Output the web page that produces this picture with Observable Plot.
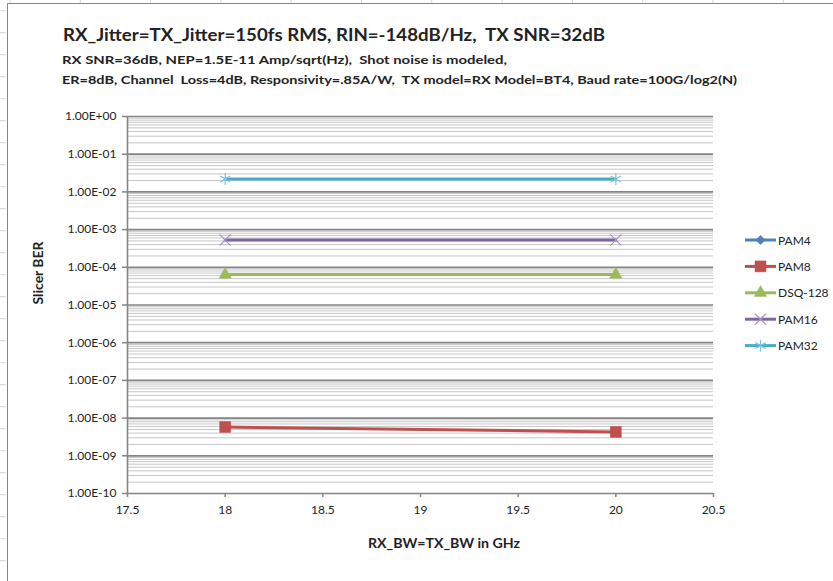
<!DOCTYPE html>
<html>
<head>
<meta charset="utf-8">
<script src="https://cdn.jsdelivr.net/npm/d3@7"></script>
<script src="https://cdn.jsdelivr.net/npm/@observablehq/plot@0.6"></script>
<style>
  html, body { margin: 0; padding: 0; background: #fff; }
  #page { position: relative; width: 833px; height: 581px; overflow: hidden; font-family: Lato, "Noto Sans", sans-serif; }
  #page > svg { position: absolute; left: 0; top: 0; }
  #overlay { pointer-events: none; }
  #overlay text { white-space: pre; }
</style>
</head>
<body>
<div id="page"></div>
<script>
// BER at each RX/TX bandwidth (GHz)
const bandwidth = [18, 20];
const pam4   = [null, null];          // below the plotted range
const pam8   = [5.8e-9, 4.3e-9];
const dsq128 = [6.4e-5, 6.4e-5];
const pam16  = [5.3e-4, 5.3e-4];
const pam32  = [2.2e-2, 2.2e-2];

const seriesNames = ["PAM4", "PAM8", "DSQ-128", "PAM16", "PAM32"];
const seriesValues = [pam4, pam8, dsq128, pam16, pam32];

const xTicks = [17.5, 18, 18.5, 19, 19.5, 20, 20.5];
const yTicks = [1e-10, 1e-9, 1e-8, 1e-7, 1e-6, 1e-5, 1e-4, 1e-3, 1e-2, 1e-1, 1];
const minorSteps = [2, 3, 4, 5, 6, 7, 8, 9];

const titleText = "RX_Jitter=TX_Jitter=150fs RMS, RIN=-148dB/Hz,  TX SNR=32dB";
const subtitleLines = [
  "RX SNR=36dB, NEP=1.5E-11 Amp/sqrt(Hz),  Shot noise is modeled,",
  "ER=8dB, Channel  Loss=4dB, Responsivity=.85A/W,  TX model=RX Model=BT4, Baud rate=100G/log2(N)"
];
const xTitle = "RX_BW=TX_BW in GHz";
const yTitle = "Slicer BER";

// Marker look per series
const seriesStyle = {
  "PAM4":    {line: "#4f81bd", mark: "#4f81bd", symbol: "diamond2", r: 4.2, filled: true},
  "PAM8":    {line: "#c0504d", mark: "#c0504d", symbol: "square",   r: 6.2, filled: true},
  "DSQ-128": {line: "#9bbb59", mark: "#9bbb59", symbol: "triangle", r: 4.6, filled: true},
  "PAM16":   {line: "#8064a2", mark: "#a293c6", symbol: "times",    r: 5.2, filled: false},
  "PAM32":   {line: "#4bacc6", mark: "#77c6dc", symbol: "asterisk", r: 5.6, filled: false}
};

const rows = [];
seriesNames.forEach((name, s) => {
  seriesValues[s].forEach((v, i) => {
    if (v != null) rows.push({series: name, bw: bandwidth[i], ber: v});
  });
});

// "1.00E-03" style labels
const fmtE = d => {
  const [m, e] = d.toExponential(2).split("e");
  const n = +e;
  return m + "E" + (n < 0 ? "-" : "+") + String(Math.abs(n)).padStart(2, "0");
};

// 2..9 × 10^k gridlines between the decades
const minorTicks = yTicks.slice(0, -1).flatMap(p => minorSteps.map(k => k * p));

const axisGray = "#858585";
const textColor = "#222";

const dotMarks = seriesNames.map(name => {
  const st = seriesStyle[name];
  return Plot.dot(rows.filter(d => d.series === name), {
    x: "bw", y: "ber", symbol: () => st.symbol, r: st.r,
    fill: st.filled ? st.mark : "none",
    stroke: st.mark, strokeWidth: st.filled ? 0.5 : 1.2
  });
});

const chart = Plot.plot({
  width: 833, height: 581,
  marginLeft: 127, marginRight: 120, marginTop: 116, marginBottom: 88,
  style: {fontFamily: "Lato, 'Noto Sans', sans-serif", fontSize: "12px", color: textColor, background: "white"},
  x: {domain: [17.5, 20.5]},
  y: {type: "log", domain: [1e-10, 1]},
  symbol: {type: "identity"},
  marks: [
    Plot.ruleY(minorTicks, {stroke: "#c6c6c6", strokeWidth: 1}),
    Plot.ruleY(yTicks, {stroke: axisGray, strokeWidth: 1.7}),
    Plot.ruleX([17.5], {stroke: axisGray, strokeWidth: 1.6}),
    Plot.axisX({ticks: xTicks, tickFormat: d => String(d), tickSize: 4, tickPadding: 8,
      stroke: axisGray, strokeWidth: 1.5, fill: textColor, label: null, fontSize: 12}),
    Plot.axisY({ticks: yTicks, tickFormat: fmtE, tickSize: 5, tickPadding: 6,
      stroke: axisGray, strokeWidth: 1.5, fill: textColor, label: null, fontSize: 12}),
    Plot.line(rows, {x: "bw", y: "ber", z: "series",
      stroke: d => seriesStyle[d.series].line, strokeWidth: 3}),
    ...dotMarks
  ]
});

const page = document.getElementById("page");
page.appendChild(chart);

// Sheet lines, chart frame, titles and legend drawn over the plot
const W = 833, H = 581;
const ov = d3.create("svg").attr("id", "overlay").attr("width", W).attr("height", H)
  .attr("font-family", "Lato, 'Noto Sans', sans-serif").attr("fill", textColor);

const sheetGrid = "#d0d7e5";
for (let x = 10; x < W; x += 70.3) {
  ov.append("line").attr("x1", x).attr("x2", x).attr("y1", 0).attr("y2", 3)
    .attr("stroke", sheetGrid);
}
for (let y = 10.7; y < H; y += 22) {
  ov.append("line").attr("x1", 0).attr("x2", 6).attr("y1", y).attr("y2", y)
    .attr("stroke", sheetGrid);
}
ov.append("path").attr("d", `M7.5,${H}V3.5H${W}`).attr("fill", "none")
  .attr("stroke", axisGray).attr("stroke-width", 1);

ov.append("text").attr("x", 63).attr("y", 41).attr("font-size", 16.5).attr("font-weight", 700)
  .attr("textLength", 542).attr("lengthAdjust", "spacingAndGlyphs").text(titleText);
const subY = [63.5, 84];
const subLen = [445, 675];
subtitleLines.forEach((t, i) => {
  ov.append("text").attr("x", 62).attr("y", subY[i]).attr("font-size", 12).attr("font-weight", 700)
    .attr("textLength", subLen[i]).attr("lengthAdjust", "spacingAndGlyphs").text(t);
});

ov.append("text").attr("x", 444).attr("y", 548).attr("text-anchor", "middle")
  .attr("font-size", 13.5).attr("font-weight", 700)
  .attr("textLength", 152).attr("lengthAdjust", "spacingAndGlyphs").text(xTitle);
ov.append("text").attr("transform", "translate(43,273) rotate(-90)").attr("text-anchor", "middle")
  .attr("font-size", 13.5).attr("font-weight", 700)
  .attr("textLength", 63).attr("lengthAdjust", "spacingAndGlyphs").text(yTitle);

// Legend
const symbolTypes = {
  diamond2: d3.symbolDiamond2, square: d3.symbolSquare, triangle: d3.symbolTriangle,
  times: d3.symbolTimes, asterisk: d3.symbolAsterisk
};
seriesNames.forEach((name, i) => {
  const st = seriesStyle[name];
  const y = 240 + i * 26.4;
  const g = ov.append("g");
  g.append("line").attr("x1", 745).attr("x2", 776).attr("y1", y).attr("y2", y)
    .attr("stroke", st.line).attr("stroke-width", 3);
  g.append("path")
    .attr("transform", `translate(760.5,${y})`)
    .attr("d", d3.symbol(symbolTypes[st.symbol], Math.PI * st.r * st.r)())
    .attr("fill", st.filled ? st.mark : "none")
    .attr("stroke", st.mark).attr("stroke-width", st.filled ? 0.5 : 1.2);
  g.append("text").attr("x", 778).attr("y", y + 4.5).attr("font-size", 12).text(name);
});

page.appendChild(ov.node());
</script>
</body>
</html>
